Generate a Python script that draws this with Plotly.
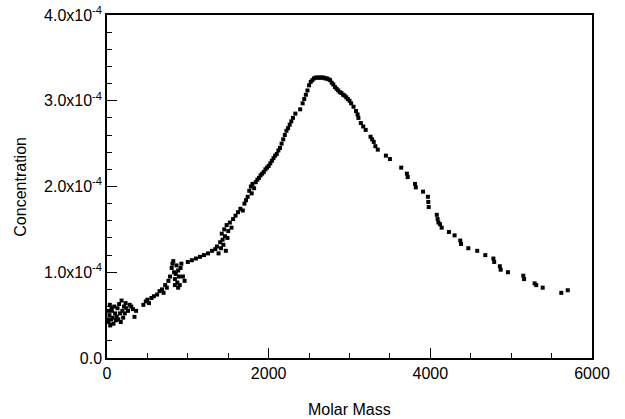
import plotly.graph_objects as go

# Molar mass values (x) and concentration values (y, in units of 1e-4)
molar_mass = [
    5, 15, 20, 30, 35, 40, 50, 55, 60, 70, 80, 90, 100, 110, 120, 130, 140, 150, 160, 170,
    180, 190, 200, 210, 220, 230, 240, 260, 280, 300, 320, 340, 360,
    450, 480, 500, 520, 550, 580, 620, 650, 680, 700, 720, 740,
    760, 780, 800, 810, 820, 830, 840, 840, 850, 860, 870, 880, 880, 890, 900, 910, 920, 940, 960,
    1000, 1050, 1100, 1150, 1200, 1250, 1300, 1340,
    1360, 1380, 1400, 1410, 1420, 1430, 1440, 1450, 1460, 1470, 1480, 1490, 1500, 1520, 1540,
    1560, 1590, 1620, 1650, 1680, 1700, 1720,
    1740, 1760, 1780, 1790, 1800, 1820, 1840, 1860,
    1880, 1900, 1920, 1940, 1960, 1980, 2000, 2020, 2040, 2060, 2080, 2100, 2120, 2140, 2160,
    2180, 2200, 2220, 2240, 2260, 2280, 2300, 2330, 2390, 2420, 2440, 2460, 2480, 2500, 2520,
    2540, 2560, 2580, 2600, 2620, 2640, 2660, 2680, 2700, 2720, 2740, 2760, 2780, 2800, 2820,
    2840, 2860, 2880, 2900, 2920, 2940, 2960, 2980, 3000, 3020, 3050, 3080, 3100, 3110, 3140,
    3170, 3200, 3260, 3280, 3300, 3320, 3350, 3450, 3500,
    3640, 3710, 3720, 3810, 3820, 3910, 3970, 3975, 3980, 4080, 4090, 4100, 4120, 4140,
    4230, 4300, 4370, 4380, 4470, 4580, 4680, 4780, 4790, 4860, 4870, 4960,
    5150, 5160, 5290, 5310, 5390, 5620, 5700,
]
concentration_e4 = [
    0.45, 0.55, 0.42, 0.50, 0.62, 0.38, 0.45, 0.58, 0.55, 0.47, 0.40, 0.60, 0.52, 0.44, 0.48, 0.58, 0.45, 0.63, 0.52, 0.42,
    0.67, 0.55, 0.47, 0.60, 0.52, 0.64, 0.58, 0.55, 0.62, 0.60, 0.57, 0.48, 0.55,
    0.62, 0.66, 0.68, 0.64, 0.70, 0.72, 0.74, 0.78, 0.80, 0.76, 0.85, 0.82,
    0.90, 0.95, 1.05, 1.10, 1.13, 1.00, 0.92, 0.85, 0.98, 1.08, 0.88, 1.02, 0.82, 0.95, 0.85, 1.05, 1.10, 0.95, 0.90,
    1.12, 1.14, 1.16, 1.18, 1.20, 1.22, 1.25, 1.27,
    1.30, 1.22, 1.35, 1.28, 1.45, 1.38, 1.32, 1.50, 1.42, 1.25, 1.55, 1.40, 1.48, 1.58, 1.52,
    1.62, 1.66, 1.70, 1.74, 1.72, 1.80, 1.84,
    1.88, 1.95, 2.00, 1.92, 2.03, 1.98, 2.05, 2.08,
    2.10, 2.13, 2.15, 2.17, 2.20, 2.22, 2.24, 2.27, 2.30, 2.33, 2.36, 2.38, 2.42, 2.45, 2.50,
    2.55, 2.60, 2.65, 2.68, 2.72, 2.76, 2.80, 2.85, 2.90, 2.97, 3.02, 3.07, 3.12, 3.18, 3.22,
    3.24, 3.26, 3.27, 3.27, 3.27, 3.27, 3.27, 3.27, 3.26, 3.26, 3.25, 3.24, 3.21, 3.19, 3.16,
    3.14, 3.12, 3.10, 3.09, 3.07, 3.06, 3.04, 3.02, 3.00, 2.97, 2.93, 2.88, 2.84, 2.80, 2.74,
    2.70, 2.66, 2.58, 2.55, 2.52, 2.47, 2.43, 2.36, 2.32,
    2.22, 2.15, 2.11, 2.03, 1.99, 1.94, 1.88, 1.82, 1.76, 1.67, 1.62, 1.58, 1.56, 1.52,
    1.47, 1.43, 1.37, 1.33, 1.28, 1.25, 1.20, 1.16, 1.12, 1.07, 1.03, 1.00,
    0.96, 0.92, 0.87, 0.85, 0.82, 0.76, 0.79,
]
concentration = [v * 1e-4 for v in concentration_e4]

y_tick_values = [0, 1e-4, 2e-4, 3e-4, 4e-4]
y_tick_labels = ["0.0", "1.0x10<sup>-4</sup>", "2.0x10<sup>-4</sup>", "3.0x10<sup>-4</sup>", "4.0x10<sup>-4</sup>"]
x_tick_values = [0, 2000, 4000, 6000]
x_tick_labels = ["0", "2000", "4000", "6000"]
x_title = "Molar Mass"
y_title = "Concentration"

font_family = "Liberation Sans, Arial, sans-serif"

fig = go.Figure()
fig.add_trace(go.Scatter(
    x=molar_mass, y=concentration, mode="markers",
    marker=dict(symbol="square", size=4, color="black", line=dict(width=0)),
    showlegend=False,
))

fig.update_layout(
    width=625, height=419,
    margin=dict(l=107, r=33, t=15, b=61),
    paper_bgcolor="white", plot_bgcolor="white",
    font=dict(family=font_family, size=16, color="black"),
)
fig.update_xaxes(
    range=[0, 6000], tickmode="array", tickvals=x_tick_values, ticktext=x_tick_labels,
    ticks="inside", ticklen=10, tickwidth=1.2, tickcolor="black",
    showline=True, linecolor="black", linewidth=1.5, mirror=True,
    showgrid=False, zeroline=False, automargin=False,
    minor=dict(dtick=500, tick0=0, ticks="inside", ticklen=5, tickcolor="black", showgrid=False),
    tickfont=dict(size=16),
)
fig.update_yaxes(
    range=[0, 4e-4], tickmode="array", tickvals=y_tick_values, ticktext=y_tick_labels,
    ticks="inside", ticklen=10, tickwidth=1.2, tickcolor="black",
    showline=True, linecolor="black", linewidth=1.5, mirror=True,
    showgrid=False, zeroline=False, automargin=False,
    minor=dict(dtick=0.2e-4, tick0=0, ticks="inside", ticklen=5, tickcolor="black", showgrid=False),
    tickfont=dict(size=16),
)
fig.add_annotation(
    text=x_title, xref="paper", yref="paper", x=0.5, y=-0.149,
    xanchor="center", yanchor="middle", showarrow=False, font=dict(size=16),
)
fig.add_annotation(
    text=y_title, xref="paper", yref="paper", x=-0.179, y=0.5, textangle=-90,
    xanchor="center", yanchor="middle", showarrow=False, font=dict(size=16),
)

fig.write_html("out.html")
